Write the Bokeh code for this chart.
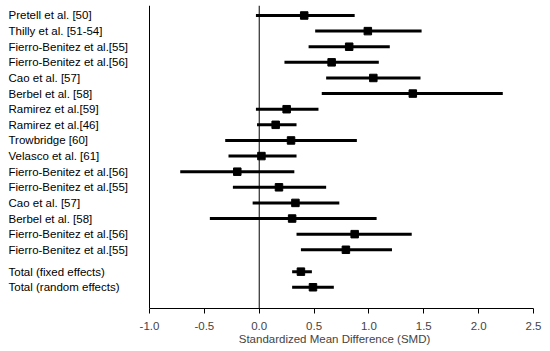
from bokeh.plotting import figure
from bokeh.layouts import row
from bokeh.models import Range1d, Span, ColumnDataSource, FixedTicker
from bokeh.core.properties import value
from bokeh.embed import file_html
from bokeh.resources import INLINE

studies = [
    "Pretell et al. [50]",
    "Thilly et al. [51-54]",
    "Fierro-Benitez et al.[55]",
    "Fierro-Benitez et al.[56]",
    "Cao et al. [57]",
    "Berbel et al. [58]",
    "Ramirez et al.[59]",
    "Ramirez et al.[46]",
    "Trowbridge [60]",
    "Velasco et al. [61]",
    "Fierro-Benitez et al.[56]",
    "Fierro-Benitez et al.[55]",
    "Cao et al. [57]",
    "Berbel et al. [58]",
    "Fierro-Benitez et al.[56]",
    "Fierro-Benitez et al.[55]",
    "Total (fixed effects)",
    "Total (random effects)",
]
smd = [0.41, 0.99, 0.82, 0.66, 1.04, 1.40, 0.25, 0.15, 0.29, 0.02, -0.20,
       0.18, 0.33, 0.30, 0.87, 0.79, 0.38, 0.49]
ci_low = [-0.03, 0.51, 0.45, 0.23, 0.61, 0.57, -0.03, -0.02, -0.31, -0.28, -0.72,
          -0.24, -0.06, -0.45, 0.34, 0.38, 0.30, 0.30]
ci_high = [0.87, 1.48, 1.19, 1.09, 1.47, 2.22, 0.54, 0.34, 0.89, 0.34, 0.32,
           0.61, 0.73, 1.07, 1.39, 1.21, 0.48, 0.68]
x_ticks = [-1.0, -0.5, 0.0, 0.5, 1.0, 1.5, 2.0, 2.5]

n_studies = 16
rows = list(range(n_studies)) + [n_studies + 0.4, n_studies + 1.4]

# layout constants
AX_LO, AX_HI = x_ticks[0], x_ticks[-1]
PX_PER_UNIT = 109.6
PAD_PX = 14                # plot frame starts a few px before -1.0
LABEL_W = 149 - PAD_PX     # width of the label column
FRAME_H = 303
TOP = 5
x_start = AX_LO - PAD_PX / PX_PER_UNIT
frame_w = int(round((AX_HI - x_start) * PX_PER_UNIT))

FONT = "Liberation Sans"
y_range = Range1d(18.76, -0.64)

src = ColumnDataSource(dict(name=studies, smd=smd, lo=ci_low, hi=ci_high, y=rows,
                            lx=[8] * len(rows)))

# label column
lf = figure(frame_width=LABEL_W, frame_height=FRAME_H,
            x_range=Range1d(0, LABEL_W), y_range=y_range,
            output_backend="svg", toolbar_location=None,
            min_border_left=0, min_border_right=0, min_border_top=TOP,
            min_border_bottom=0)
lf.outline_line_color = None
lf.grid.visible = False
lf.axis.visible = False
lf.text(x="lx", y="y", text="name", source=src, text_align="left",
        text_baseline="middle", text_font=value(FONT), text_font_size="11.5px",
        text_color="black")

# forest plot
p = figure(frame_width=frame_w, frame_height=FRAME_H,
           x_range=Range1d(x_start, AX_HI), y_range=y_range,
           output_backend="svg", toolbar_location=None,
           min_border_left=0, min_border_right=12, min_border_top=TOP,
           min_border_bottom=35)
p.outline_line_color = None
p.xgrid.visible = False
p.ygrid.visible = False
p.yaxis.visible = False
p.background_fill_color = "white"

p.segment(x0="lo", y0="y", x1="hi", y1="y", source=src, line_color="black", line_width=3)
p.scatter(x="smd", y="y", source=src, marker="square", size=7.5,
          fill_color="black", line_color="black")

p.add_layout(Span(location=AX_LO, dimension="height", line_color="black", line_width=1))
p.add_layout(Span(location=0, dimension="height", line_color="black", line_width=1))

xa = p.xaxis[0]
xa.ticker = FixedTicker(ticks=x_ticks)
xa.bounds = (AX_LO, AX_HI)
xa.major_label_overrides = {t: f"{t:.1f}" for t in x_ticks}
xa.minor_tick_line_color = None
xa.major_tick_in = 0
xa.major_tick_out = 5
xa.major_label_standoff = 8
xa.axis_label = "Standardized Mean Difference (SMD)"
xa.axis_label_text_font = FONT
xa.axis_label_text_font_style = "normal"
xa.axis_label_text_font_size = "11.5px"
xa.axis_label_standoff = 0
xa.major_label_text_font = FONT
xa.major_label_text_font_size = "11.5px"
xa.axis_line_color = "black"
xa.major_tick_line_color = "black"

layout = row(lf, p)
open("out.html", "w").write(file_html(layout, INLINE))
